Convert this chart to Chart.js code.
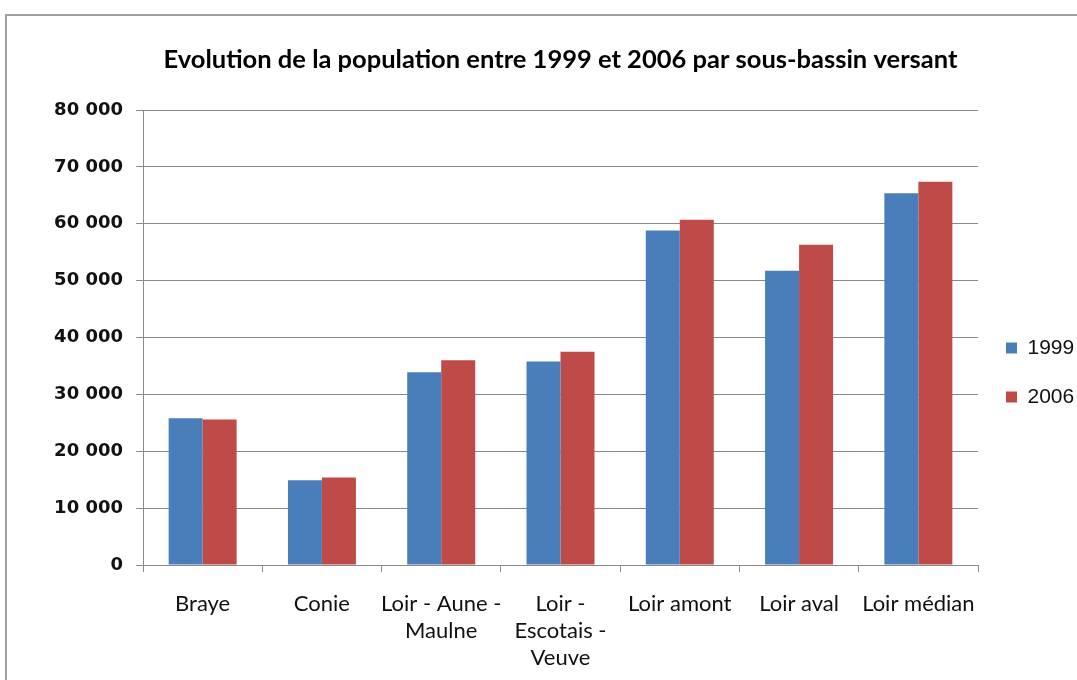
<!DOCTYPE html>
<html>
<head>
<meta charset="utf-8">
<script src="https://cdn.jsdelivr.net/npm/chart.js@4.4.1/dist/chart.umd.min.js"></script>
<style>
  html, body { margin: 0; padding: 0; background: #ffffff; overflow: hidden; }
  #wrap { position: relative; width: 1077px; height: 680px; }
</style>
</head>
<body>
<div id="wrap"><canvas id="c" width="1077" height="680"></canvas></div>
<script>
const titleText = 'Evolution de la population entre 1999 et 2006 par sous-bassin versant';
const categories = ['Braye', 'Conie', ['Loir - Aune -', 'Maulne'], ['Loir -', 'Escotais -', 'Veuve'], 'Loir amont', 'Loir aval', 'Loir médian'];
const seriesNames = ['1999', '2006'];
const values1999 = [25800, 14900, 33900, 35800, 58800, 51750, 65350];
const values2006 = [25600, 15400, 36000, 37500, 60700, 56300, 67400];
const yMin = 0, yMax = 80000, yStep = 10000;

const human = 'Lato, "Liberation Sans Narrow", "DejaVu Sans Condensed", sans-serif';
const gridColor = '#8a8a8a';

const framePlugin = {
  id: 'frame',
  beforeDraw(chart) {
    const ctx = chart.ctx;
    ctx.save();
    ctx.strokeStyle = '#a0a0a0';
    ctx.lineWidth = 2;
    ctx.strokeRect(6, 15, 1200, 800);
    ctx.restore();
  }
};
const legendShift = {
  id: 'legendShift',
  afterLayout(chart) {
    const l = chart.legend;
    if (l) { l.top += 35; l.bottom += 35; }
  }
};

new Chart(document.getElementById('c'), {
  type: 'bar',
  data: {
    labels: categories,
    datasets: [
      { label: seriesNames[0], data: values1999, backgroundColor: '#4a7ebb' },
      { label: seriesNames[1], data: values2006, backgroundColor: '#be4b48' }
    ]
  },
  options: {
    responsive: false,
    animation: false,
    devicePixelRatio: 1,
    layout: { padding: { left: 0, right: 0, top: 0, bottom: 0 } },
    datasets: { bar: { categoryPercentage: 0.57, barPercentage: 1.0 } },
    plugins: {
      title: {
        display: true,
        text: titleText,
        fullSize: false,
        color: '#000',
        font: { family: human, size: 25.5, weight: 'bold', lineHeight: '30px' },
        padding: { top: 45, bottom: 35 }
      },
      legend: {
        display: true,
        position: 'right',
        align: 'center',
        fullSize: false,
        maxWidth: 99,
        labels: {
          boxWidth: 11,
          boxHeight: 11,
          padding: 28,
          color: '#111',
          font: { family: '"Liberation Sans", Arial, sans-serif', size: 21 }
        }
      },
      tooltip: { enabled: false }
    },
    scales: {
      x: {
        grid: { display: true, offset: true, drawOnChartArea: false, drawTicks: true, tickLength: 7, color: gridColor },
        border: { display: true, color: gridColor },
        ticks: {
          autoSkip: false, maxRotation: 0, minRotation: 0, padding: 18, color: '#111',
          font: { family: human, size: 22, lineHeight: '27px' }
        },
        afterFit(scale) { scale.height = 115; }
      },
      y: {
        min: yMin, max: yMax,
        grid: { color: gridColor, tickLength: 7 },
        border: { display: true, color: gridColor },
        ticks: {
          stepSize: yStep, padding: 13, color: '#111',
          font: { family: '"DejaVu Sans", sans-serif', size: 18, weight: 'bold' },
          callback(v) { return String(v).replace(/\B(?=(\d{3})+(?!\d))/g, ' '); }
        },
        afterFit(scale) { scale.width = 143; }
      }
    }
  },
  plugins: [framePlugin, legendShift]
});
</script>
</body>
</html>
